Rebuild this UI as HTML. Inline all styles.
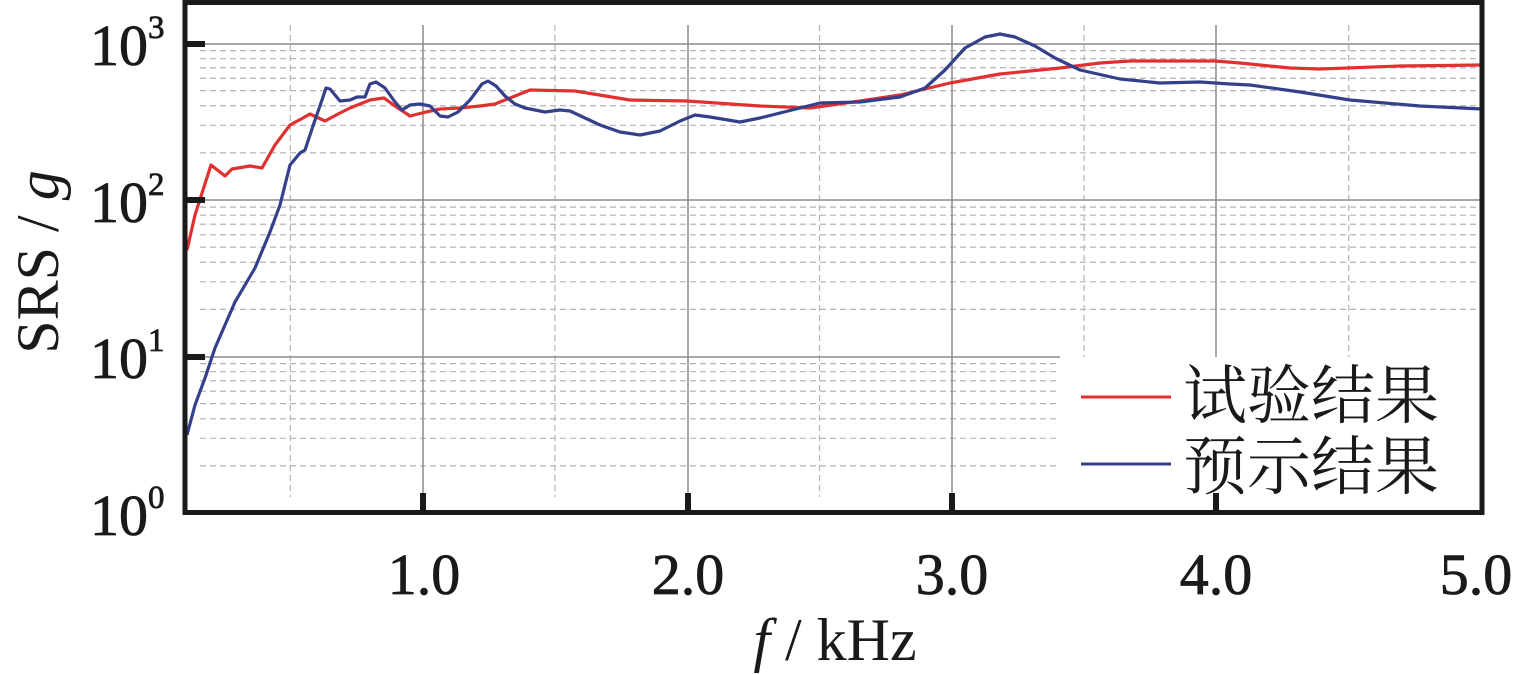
<!DOCTYPE html>
<html><head><meta charset="utf-8"><style>
html,body{margin:0;padding:0;background:#fff;}
svg{display:block;}
</style></head><body>
<svg width="1524" height="675" viewBox="0 0 1524 675" xmlns="http://www.w3.org/2000/svg">
<g id="minor" stroke="#b4b4b4" stroke-width="1.2" stroke-dasharray="6,4">
</g>
<script>
(function(){
 var g=document.getElementById('minor');
 var ns='http://www.w3.org/2000/svg';
 var y0=513, dec=156.5;
 for(var d=0;d<3;d++){
  for(var m=2;m<=9;m++){
   var y=y0-dec*(d+Math.log10(m));
   var x2=(y>357)?1060:1482;
   var l=document.createElementNS(ns,'line');
   l.setAttribute('x1',200);l.setAttribute('x2',x2);
   l.setAttribute('y1',y);l.setAttribute('y2',y);
   g.appendChild(l);
  }
 }
 for(var k=0;k<5;k++){
  var x=158+264.6*(0.5+k);
  var l=document.createElementNS(ns,'line');
  l.setAttribute('x1',x);l.setAttribute('x2',x);
  l.setAttribute('y1',25);l.setAttribute('y2',(x>1060)?357:497);
  g.appendChild(l);
 }
})();
</script>
<g stroke="#8c8c8c" stroke-width="1.5">
<line x1="187" y1="44" x2="1482" y2="44"/>
<line x1="187" y1="200" x2="1482" y2="200"/>
<line x1="187" y1="357" x2="1060" y2="357"/>
<line x1="423" y1="25" x2="423" y2="497"/>
<line x1="688" y1="25" x2="688" y2="497"/>
<line x1="952" y1="25" x2="952" y2="497"/>
<line x1="1216" y1="25" x2="1216" y2="357"/>
</g>
<polyline fill="none" stroke="#e03030" stroke-width="3.2" stroke-linejoin="round" points="187,250 195,215 211,165 225,176 232,169 250,166 262,168 275,145 290,125 303,118 310,114 325,121 340,113 350,108 370,100 384,98 395,106 410,116 426,112 440,109 460,108 480,106 495,104 510,98 530,90 575,91 630,100 687,101 760,106 810,108 860,101 900,95 950,83 1000,74 1060,68 1100,63 1130,61 1215,61 1240,63 1290,68 1320,69 1400,66 1482,65"/>
<polyline fill="none" stroke="#35408a" stroke-width="3.2" stroke-linejoin="round" points="187,435 195,405 205,378 215,348 225,325 235,302 245,285 255,268 270,232 280,205 290,165 300,153 305,150 315,120 322,100 326,88 330,89 340,101 350,100 357,97 365,97 370,84 376,82 385,88 395,102 402,110 410,105 420,104 430,106 440,116 448,117 458,112 470,100 482,84 488,81 496,86 505,96 515,104 525,108 545,112 560,110 570,111 585,118 600,125 620,132 640,135 660,131 680,121 695,115 710,117 740,122 760,118 780,113 800,108 820,103 860,102 900,97 925,88 945,70 965,48 985,37 1000,34 1015,37 1035,46 1055,58 1080,70 1120,79 1160,83 1200,82 1230,84 1250,85 1300,92 1350,100 1420,106 1482,109"/>
<rect x="1060" y="358" width="420" height="152" fill="#fff"/>
<line x1="1081" y1="397" x2="1171" y2="397" stroke="#e03030" stroke-width="3"/>
<line x1="1081" y1="464" x2="1171" y2="464" stroke="#35408a" stroke-width="3"/>
<g style="font-family:'Noto Serif CJK SC','Noto Sans CJK SC',serif;font-size:64px;" fill="#1a1a1a">
<text x="1183" y="418">试验结果</text>
<text x="1183" y="489">预示结果</text>
</g>
<rect x="185" y="2.5" width="1297" height="510" fill="none" stroke="#1a1a1a" stroke-width="5"/>
<g stroke="#1a1a1a" stroke-width="6">
<line x1="187" y1="44" x2="205" y2="44"/>
<line x1="187" y1="200" x2="205" y2="200"/>
<line x1="187" y1="357" x2="205" y2="357"/>
<line x1="423" y1="493" x2="423" y2="512"/>
<line x1="688" y1="493" x2="688" y2="512"/>
<line x1="952" y1="493" x2="952" y2="512"/>
<line x1="1216" y1="493" x2="1216" y2="512"/>
</g>
<g style="font-family:'Liberation Serif','Times New Roman',serif;font-size:58px;" fill="#1a1a1a" stroke="#1a1a1a" stroke-width="0.8" text-anchor="middle">
<text x="424" y="594">1.0</text>
<text x="688" y="594">2.0</text>
<text x="952" y="594">3.0</text>
<text x="1216" y="594">4.0</text>
<text x="1476" y="594">5.0</text>
</g>
<g style="font-family:'Liberation Serif','Times New Roman',serif;font-size:58px;" fill="#1a1a1a" stroke="#1a1a1a" stroke-width="0.8">
<text x="90" y="65">10<tspan style="font-size:33px" dy="-27">3</tspan></text>
<text x="90" y="222">10<tspan style="font-size:33px" dy="-27">2</tspan></text>
<text x="90" y="378">10<tspan style="font-size:33px" dy="-27">1</tspan></text>
<text x="90" y="535">10<tspan style="font-size:33px" dy="-27">0</tspan></text>
</g>
<g style="font-family:'Liberation Serif','Times New Roman',serif;font-size:60px;" fill="#1a1a1a">
<text x="835" y="660" text-anchor="middle"><tspan style="font-style:italic">f</tspan> / kHz</text>
<text transform="translate(58,262) rotate(-90)" text-anchor="middle">SRS / <tspan style="font-style:italic">g</tspan></text>
</g>
</svg>
</body></html>
